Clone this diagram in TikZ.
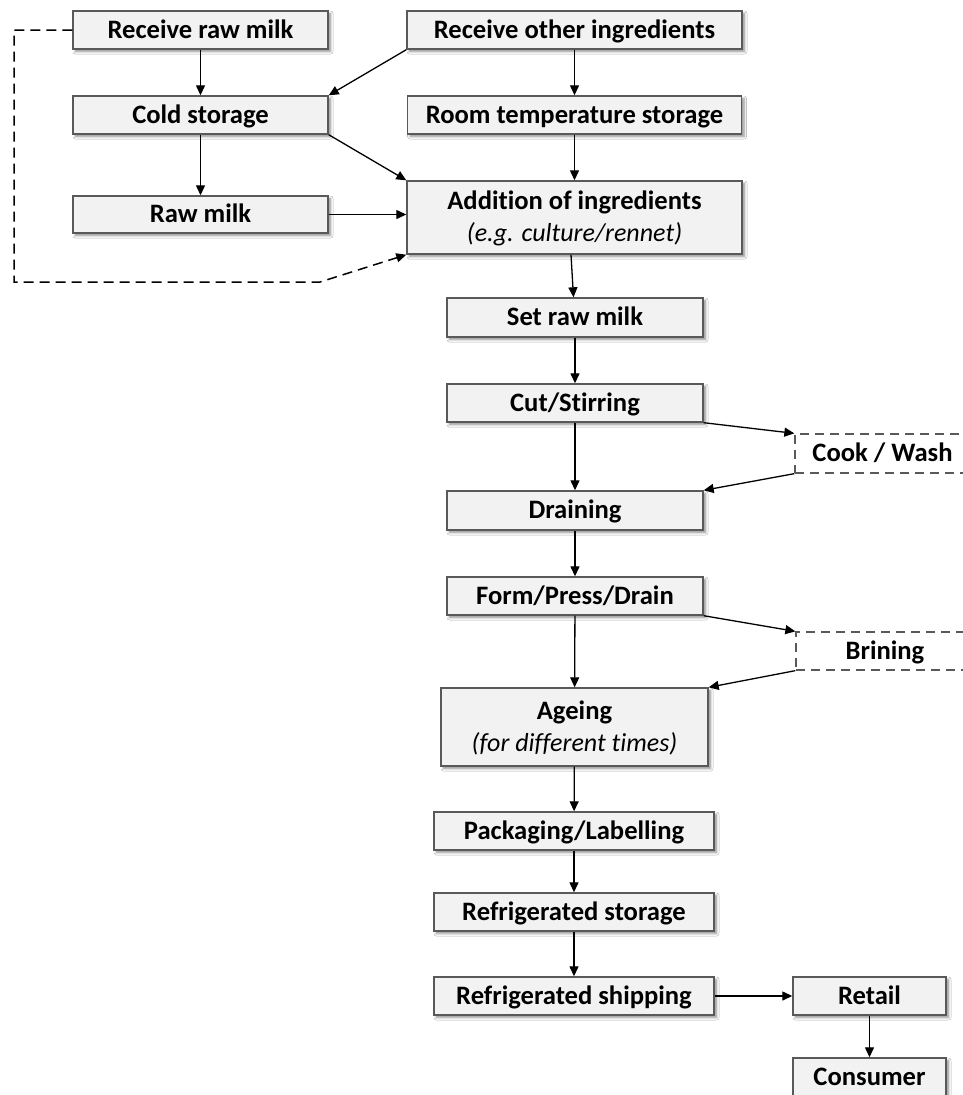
\documentclass[tikz,border=0pt]{standalone}
\usepackage{fontspec}
\setmainfont{Carlito}[Ligatures={NoCommon}]
\usetikzlibrary{arrows.meta,shadows.blur}
\definecolor{boxfill}{HTML}{F2F2F2}
\definecolor{boxline}{HTML}{595959}
\newcommand{\itline}[1]{{\fontsize{26}{32}\selectfont\mdseries\itshape #1}}
\begin{document}
\begin{tikzpicture}[x=1pt,y=-1pt,
  proc/.style={draw=boxline, line width=1.4pt, fill=boxfill, inner sep=0pt,
    font=\fontsize{26.6}{32}\selectfont\bfseries, align=center,
    text height=20pt, text depth=3.5pt,
    blur shadow={shadow xshift=2.5pt, shadow yshift=-2.5pt, shadow blur steps=6,
      shadow blur extra rounding=0pt, shadow blur radius=2.5pt, shadow opacity=45}},
  twoline/.style={text height=52pt, text depth=3.5pt},
  optbox/.style={draw=boxline, line width=1.3pt, fill=white, inner sep=0pt,
    dash pattern=on 9pt off 6pt, text height=20pt, text depth=3.5pt,
    font=\fontsize{26.6}{32}\selectfont\bfseries, align=center},
  arr/.style={line width=1.3pt, -{Triangle[length=10pt,width=9pt]}},
  feedback/.style={line width=1.5pt, dash pattern=on 10pt off 6pt, -{Triangle[length=10pt,width=9pt]}}
]
\useasboundingbox (0,0) rectangle (963,1095);
\clip (0,0) rectangle (963,1095);
\fill[white] (0,0) rectangle (963,1095);

\node[proc, minimum width=255pt, minimum height=38pt] (rrm) at (200.5,30) {Receive raw milk};
\node[proc, minimum width=335pt, minimum height=38pt] (roi) at (574.5,30) {Receive other ingredients};
\node[proc, minimum width=255pt, minimum height=38pt] (cold) at (200.5,115) {Cold storage};
\node[proc, minimum width=334pt, minimum height=38pt] (room) at (574.5,115) {Room temperature storage};
\node[proc, minimum width=255pt, minimum height=37pt] (raw) at (200.5,214.5) {Raw milk};
\node[proc, twoline, minimum width=335pt, minimum height=73pt] (add) at (574.5,217.5) {Addition of ingredients\\\itline{(e.g. culture/rennet)}};
\node[proc, minimum width=256pt, minimum height=39pt] (set) at (575,317.5) {Set raw milk};
\node[proc, minimum width=256pt, minimum height=38pt] (cut) at (575,403) {Cut/Stirring};
\node[optbox, minimum width=175pt, minimum height=39pt] (cook) at (882.5,453.5) {Cook / Wash};
\node[proc, minimum width=256pt, minimum height=39pt] (drain) at (575,510.5) {Draining};
\node[proc, minimum width=256pt, minimum height=38pt] (form) at (575,596) {Form/Press/Drain};
\node[optbox, minimum width=178pt, minimum height=38pt] (brine) at (885,651) {Brining};
\node[proc, twoline, minimum width=267pt, minimum height=78pt] (age) at (574.5,727) {Ageing\\\itline{(for different times)}};
\node[proc, minimum width=280pt, minimum height=38pt] (pack) at (574,831) {Packaging/Labelling};
\node[proc, minimum width=280pt, minimum height=38pt] (rstore) at (574,912) {Refrigerated storage};
\node[proc, minimum width=280pt, minimum height=38pt] (rship) at (574,996) {Refrigerated shipping};
\node[proc, minimum width=153pt, minimum height=38pt] (retail) at (869.5,996) {Retail};
\node[proc, minimum width=153pt, minimum height=38pt] (cons) at (869.5,1077) {Consumer};

\coordinate (fb1) at (14,30);
\coordinate (fb2) at (14,282);
\coordinate (fb3) at (320,282);

\draw[arr] (rrm) -- (cold);
\draw[arr] (cold) -- (raw);
\draw[arr] (roi) -- (room);
\draw[arr] (room) -- (add);
\draw[arr] (roi.south west) -- (cold.north east);
\draw[arr] (cold.south east) -- (add.north west);
\draw[arr] (raw.east) -- (raw.east -| add.west);
\draw[feedback] (rrm.west) -- (fb1) -- (fb2) -- (fb3) -- (add.south west);
\draw[arr] ([xshift=-3.5pt]add.south) -- ([xshift=-1.5pt]set.north);
\draw[arr] (set) -- (cut);
\draw[arr] (cut) -- (drain);
\draw[arr] (cut.south east) -- (cook.north west);
\draw[arr] (cook.south west) -- (drain.north east);
\draw[arr] (drain) -- (form);
\draw[arr] (form) -- (age);
\draw[arr] (form.south east) -- (brine.north west);
\draw[arr] (brine.south west) -- (age.north east);
\draw[arr] (age) -- (pack);
\draw[arr] (pack) -- (rstore);
\draw[arr] (rstore) -- (rship);
\draw[arr] (rship) -- (retail);
\draw[arr] (retail) -- (cons);
\end{tikzpicture}
\end{document}
